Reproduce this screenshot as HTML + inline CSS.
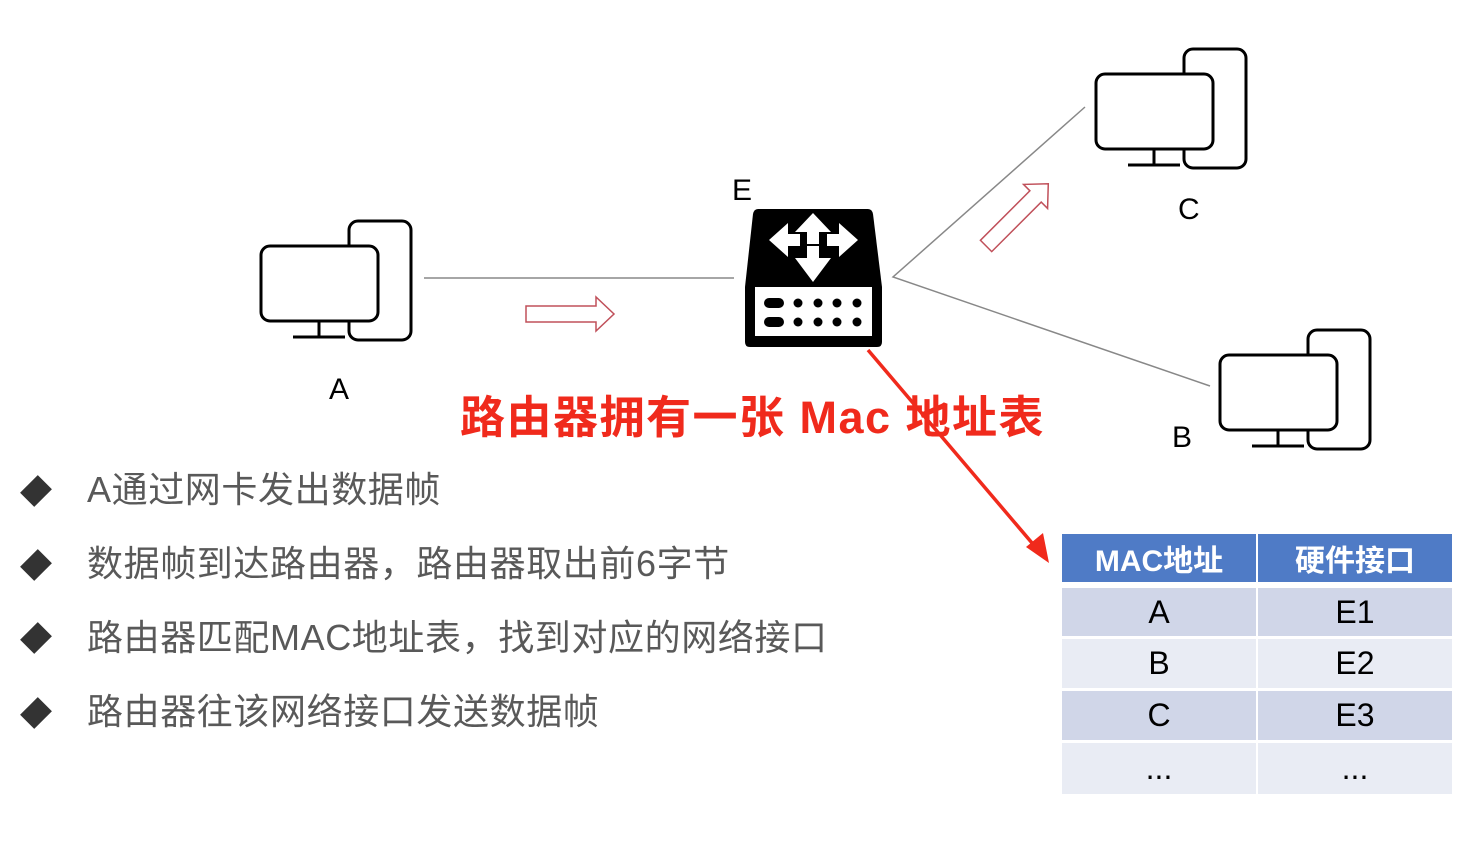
<!DOCTYPE html>
<html><head><meta charset="utf-8"><style>
body{margin:0;background:#fff;width:1474px;height:844px;overflow:hidden;position:relative;font-family:"Liberation Sans","Noto Sans CJK SC",sans-serif;}
.t{position:absolute;white-space:nowrap;}
.b{position:absolute;left:87px;font-size:36px;color:#595959;white-space:nowrap;line-height:1;letter-spacing:0.6px;}
.d{position:absolute;left:26px;width:20px;height:20px;background:#333;transform:rotate(45deg) scaleY(1.25);}
table{position:absolute;left:1062px;top:534px;border-collapse:separate;border-spacing:0;}
td{width:194px;text-align:center;font-size:32px;color:#000;padding:0;border-right:2px solid #fff;border-bottom:3px solid #fff;}
</style></head><body>
<svg width="1474" height="844" style="position:absolute;left:0;top:0">
<defs>
<g id="pc" fill="none" stroke="#000" stroke-width="3">
<rect x="349" y="221" width="62" height="119" rx="9" fill="#fff"/>
<rect x="261" y="246" width="117" height="75" rx="9" fill="#fff"/>
<line x1="319" y1="321" x2="319" y2="336"/>
<line x1="293" y1="337" x2="345" y2="337"/>
</g>
</defs>
<use href="#pc"/>
<use href="#pc" transform="translate(835,-172)"/>
<use href="#pc" transform="translate(959,109)"/>
<line x1="424" y1="278" x2="734" y2="278" stroke="#888" stroke-width="1.5"/>
<polyline points="1085,107 893,277 1210,386" fill="none" stroke="#888" stroke-width="1.5"/>
<polygon points="526,306 596,306 596,297 614,314 596,331 596,322 526,322" fill="none" stroke="#c0505a" stroke-width="1.5"/>
<g transform="translate(1020,212) rotate(-45)">
<polygon points="-48,-8 22,-8 22,-17 40,0 22,17 22,8 -48,8" fill="none" stroke="#c0505a" stroke-width="1.5"/>
</g>
<path d="M758,209 L868,209 Q872,209 873,214 L882,287 L882,342 Q882,347 877,347 L750,347 Q745,347 745,342 L745,287 L753,214 Q754,209 758,209 Z" fill="#000"/>
<rect x="755" y="287" width="117" height="49" fill="#fff"/>
<g fill="#000">
<rect x="764" y="298" width="20" height="10" rx="5"/><rect x="764" y="317" width="20" height="10" rx="5"/>
<circle cx="798" cy="303" r="4.5"/><circle cx="818" cy="303" r="4.5"/><circle cx="837" cy="303" r="4.5"/><circle cx="857" cy="303" r="4.5"/>
<circle cx="798" cy="322" r="4.5"/><circle cx="818" cy="322" r="4.5"/><circle cx="837" cy="322" r="4.5"/><circle cx="857" cy="322" r="4.5"/>
</g>
<g fill="#fff">
<polygon points="813,213 831,232 819,232 819,244 813,244"/>
<polygon points="813,213 795,232 807,232 807,244 813,244"/>
<polygon points="769,240 788,223 788,234 800,234 800,246 788,246 788,257"/>
<polygon points="858,240 839,223 839,234 827,234 827,246 839,246 839,257"/>
<polygon points="813,282 795,258 807,258 807,246 819,246 819,258 831,258"/>
</g>
<line x1="868" y1="350" x2="1038" y2="550" stroke="#f02a1c" stroke-width="3.5"/>
<polygon points="1049,563 1026,547 1043,533" fill="#f02a1c"/>
</svg>
<div class="t" style="left:732px;top:174px;font-size:30px;">E</div>
<div class="t" style="left:329px;top:373px;font-size:30px;">A</div>
<div class="t" style="left:1178px;top:193px;font-size:30px;">C</div>
<div class="t" style="left:1172px;top:421px;font-size:30px;">B</div>
<div class="t" style="left:460px;top:395px;font-size:45px;font-weight:bold;color:#f02a1c;line-height:1;letter-spacing:1.5px;">路由器拥有一张 Mac 地址表</div>
<div class="d" style="top:481px"></div><div class="b" style="top:472px">A通过网卡发出数据帧</div>
<div class="d" style="top:555px"></div><div class="b" style="top:546px">数据帧到达路由器，路由器取出前6字节</div>
<div class="d" style="top:628px"></div><div class="b" style="top:620px">路由器匹配MAC地址表，找到对应的网络接口</div>
<div class="d" style="top:703px"></div><div class="b" style="top:694px">路由器往该网络接口发送数据帧</div>
<table>
<tr><td style="background:#4f7bc6;color:#fff;height:48px;font-weight:bold;font-size:30px;border-bottom:6px solid #fff">MAC地址</td><td style="background:#4f7bc6;color:#fff;height:48px;font-weight:bold;font-size:30px;border-bottom:6px solid #fff">硬件接口</td></tr>
<tr><td style="background:#d0d6e8;height:48px">A</td><td style="background:#d0d6e8;height:48px">E1</td></tr>
<tr><td style="background:#e9ecf4;height:49px">B</td><td style="background:#e9ecf4;height:49px">E2</td></tr>
<tr><td style="background:#d0d6e8;height:49px">C</td><td style="background:#d0d6e8;height:49px">E3</td></tr>
<tr><td style="background:#e9ecf4;height:51px;border-bottom:0">...</td><td style="background:#e9ecf4;height:51px;border-bottom:0">...</td></tr>
</table>
</body></html>
